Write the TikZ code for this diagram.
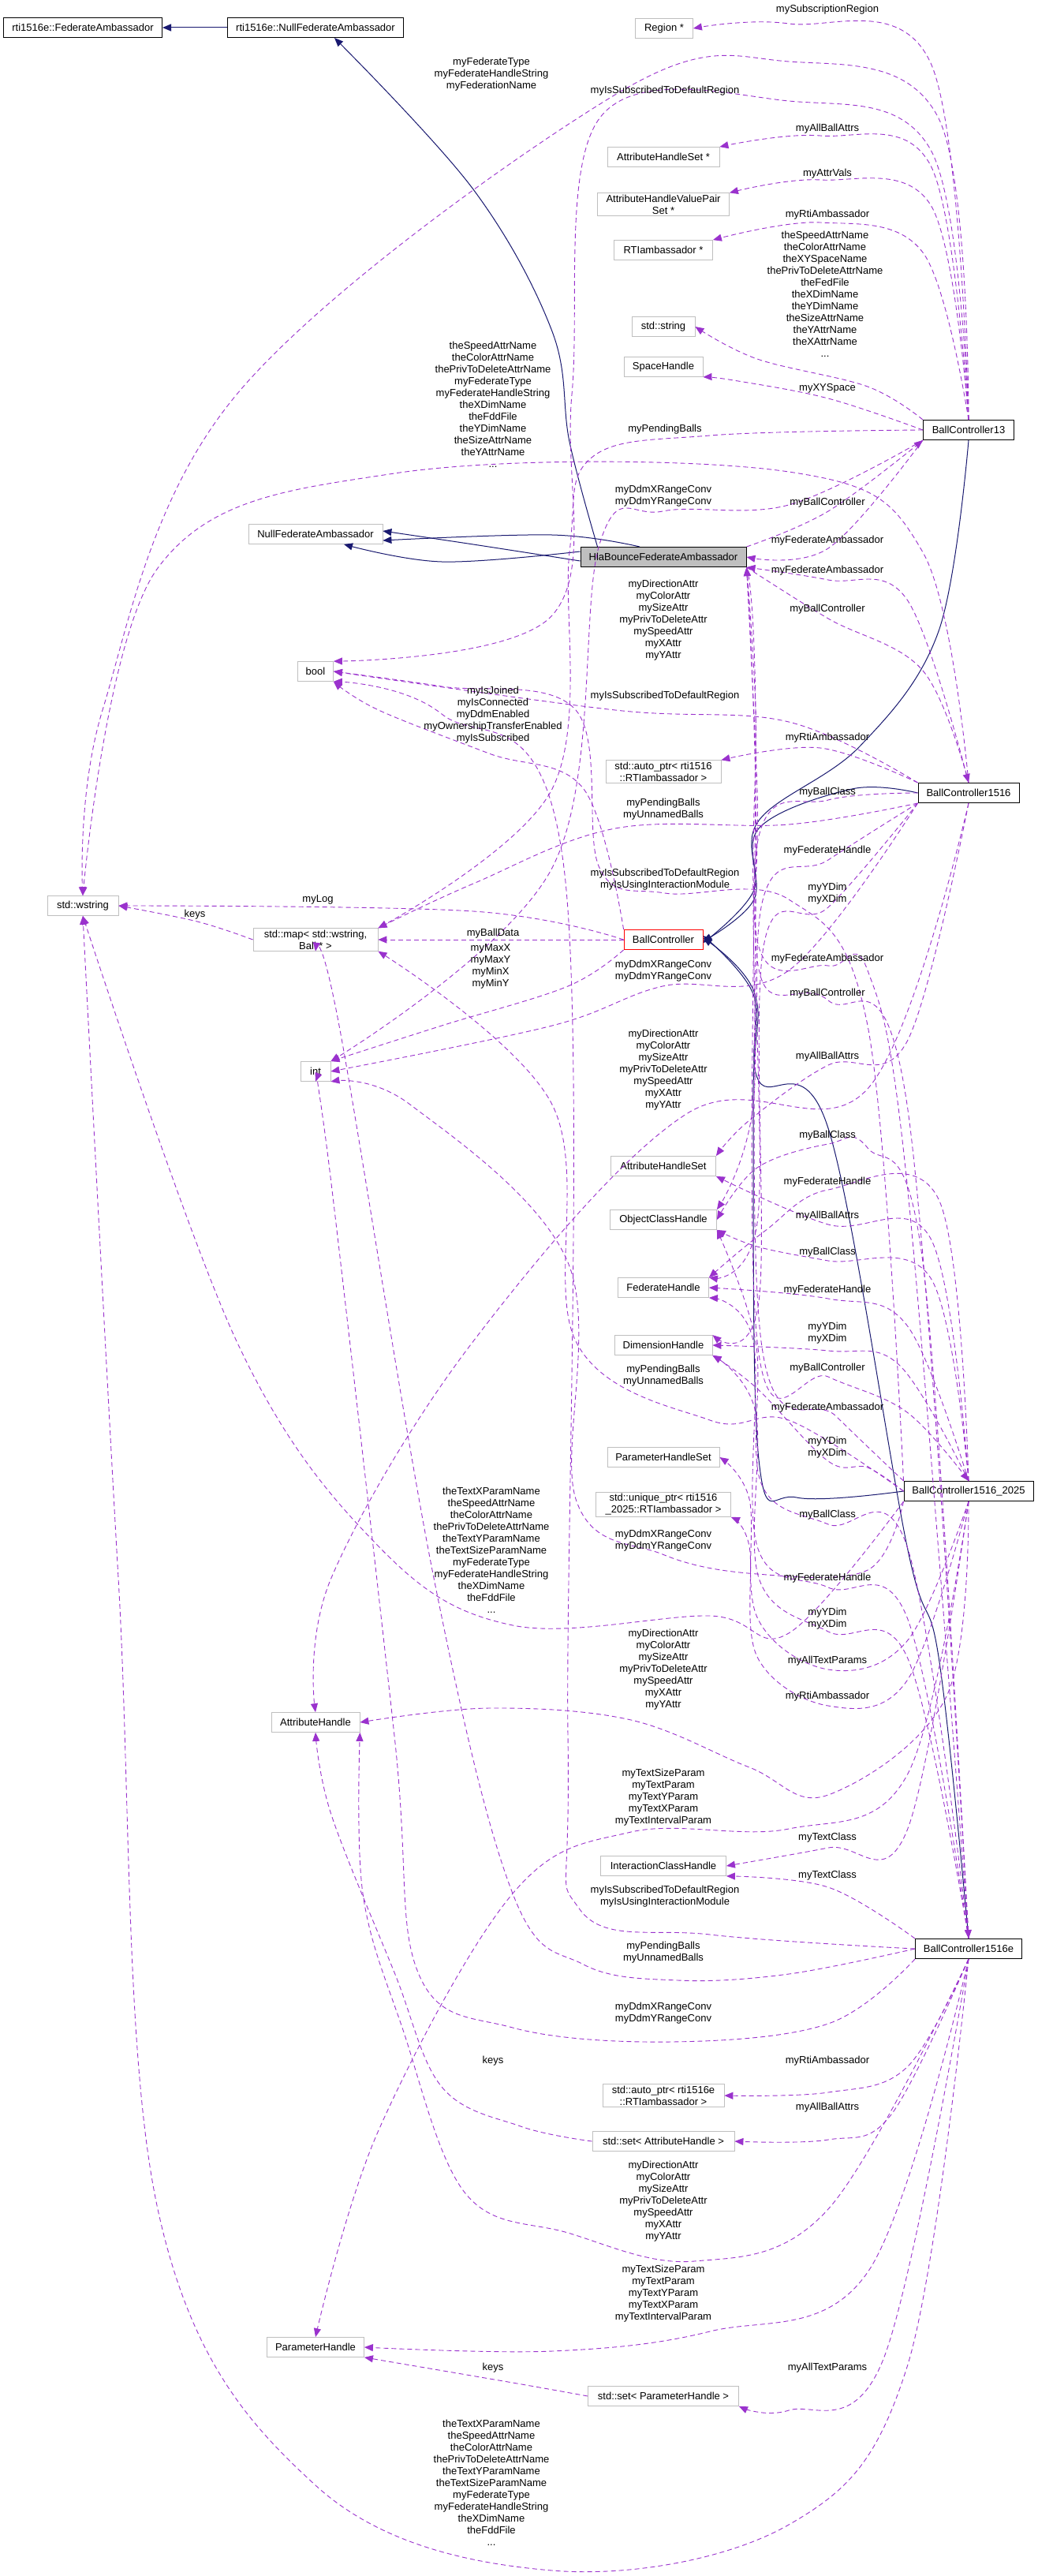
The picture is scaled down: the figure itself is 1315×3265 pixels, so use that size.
\documentclass[tikz,border=0pt]{standalone}
\usepackage{fontspec}
\setmainfont{Liberation Sans}
\usetikzlibrary{arrows.meta}
\definecolor{dep}{RGB}{154,50,205}
\definecolor{nav}{RGB}{25,25,112}
\definecolor{lg}{RGB}{191,191,191}
\begin{document}
\begin{tikzpicture}[x=1pt,y=-1pt,
  box/.style={draw=lg, line width=0.8pt, minimum height=25pt, inner sep=2pt, font=\fontsize{13}{15}\selectfont, align=center},
  doc/.style={box, draw=black, line width=1pt},
  lbl/.style={font=\fontsize{13}{15}\selectfont, align=center, inner sep=0pt},
  dep/.style={draw=dep, line width=0.9pt, dash pattern=on 6pt off 4pt, -{Triangle[length=11pt,width=9pt]}},
  inh/.style={draw=nav, line width=1pt, -{Triangle[length=11pt,width=9pt]}}]
\useasboundingbox (0,0) rectangle (1315,3265);
\fill[white] (0,0) rectangle (1315,3265);
% nodes
\node[doc, minimum width=201] (rfa) at (105,35) {rti1516e::FederateAmbassador};
\node[doc, minimum width=223] (rnfa) at (400,35) {rti1516e::NullFederateAmbassador};
\node[box, minimum width=73] (region) at (842,36) {Region *};
\node[box, minimum width=142] (ahsp) at (841,199) {AttributeHandleSet *};
\node[box, minimum width=167] (ahvps) at (841,259) {AttributeHandleValuePair\\Set *};
\node[box, minimum width=125] (rtip) at (841,317) {RTIambassador *};
\node[box, minimum width=80] (sstr) at (841,414) {std::string};
\node[box, minimum width=100] (space) at (841,465) {SpaceHandle};
\node[doc, minimum width=115] (bc13) at (1228,545) {BallController13};
\node[box, minimum width=170] (nfa) at (400,677) {NullFederateAmbassador};
\node[box, draw=black, fill=lg, line width=1pt, minimum width=210] (hla) at (841,706) {HlaBounceFederateAmbassador};
\node[box, minimum width=45] (bool) at (400,851) {bool};
\node[box, minimum width=146] (ap16) at (841,978) {std::auto\_ptr\textless{} rti1516\\::RTIambassador \textgreater};
\node[doc, minimum width=128] (bc16) at (1228,1005) {BallController1516};
\node[box, minimum width=90] (wstr) at (105,1148) {std::wstring};
\node[box, minimum width=158] (map) at (400,1191) {std::map\textless{} std::wstring,\\Ball * \textgreater};
\node[box, draw=red, minimum width=100] (bc) at (841,1191) {BallController};
\node[box, minimum width=38] (int) at (400,1358) {int};
\node[box, minimum width=133] (ahs) at (841,1478) {AttributeHandleSet};
\node[box, minimum width=135] (och) at (841,1546) {ObjectClassHandle};
\node[box, minimum width=115] (fh) at (841,1632) {FederateHandle};
\node[box, minimum width=124] (dh) at (841,1705) {DimensionHandle};
\node[box, minimum width=142] (phs) at (841,1847) {ParameterHandleSet};
\node[box, minimum width=171] (uptr) at (841,1907) {std::unique\_ptr\textless{} rti1516\\\_2025::RTIambassador \textgreater};
\node[doc, minimum width=164] (bc25) at (1228,1890) {BallController1516\_2025};
\node[box, minimum width=112] (ah) at (400,2183) {AttributeHandle};
\node[box, minimum width=159] (ich) at (841,2365) {InteractionClassHandle};
\node[doc, minimum width=135] (bc16e) at (1228,2470) {BallController1516e};
\node[box, minimum width=154] (ap16e) at (841,2656) {std::auto\_ptr\textless{} rti1516e\\::RTIambassador \textgreater};
\node[box, minimum width=180] (setah) at (841,2714) {std::set\textless{} AttributeHandle \textgreater};
\node[box, minimum width=123] (ph) at (400,2975) {ParameterHandle};
\node[box, minimum width=191] (setph) at (841,3037) {std::set\textless{} ParameterHandle \textgreater};
% inheritance
\draw[inh] (rnfa) -- (rfa);
\draw[inh] plot[smooth,tension=0.6] coordinates {([xshift=22pt]hla.north west) (722,560) (700,420) (600,240) ([xshift=24pt]rnfa.south)};
\draw[inh] plot[smooth,tension=0.6] coordinates {([xshift=-30pt]hla.north) (700,678) ([yshift=-8pt]nfa.east)};
\draw[inh] plot[smooth,tension=0.6] coordinates {([yshift=-5pt]hla.west) (600,690) ([yshift=4pt]nfa.east)};
\draw[inh] plot[smooth,tension=0.6] coordinates {([yshift=7pt]hla.west) (560,712) ([xshift=36pt]nfa.south)};
\draw[inh] plot[smooth,tension=0.6] coordinates {(bc13.south) (1190,800) (1090,946) (962,1040) (955,1130) ([yshift=-4pt]bc.east)};
\draw[inh] plot[smooth,tension=0.6] coordinates {(bc16.west) (1080,1000) (962,1050) (956,1140) ([yshift=-2pt]bc.east)};
\draw[inh] plot[smooth,tension=0.6] coordinates {(bc25.west) (1010,1898) (962,1850) (955,1400) (957,1260) ([yshift=2pt]bc.east)};
\draw[inh] plot[smooth,tension=0.6] coordinates {(bc16e.north) (1190,2100) (1150,1960) (1050,1430) (962,1370) (955,1260) ([yshift=5pt]bc.east)};
% BC13 deps
\draw[dep] plot[smooth,tension=0.6] coordinates {(bc13.north) (1180,80) (1000,30) (region.east)};
\draw[dep] plot[smooth,tension=0.6] coordinates {(bc13.north) (1190,150) (1000,78) (780,120) (300,500) (130,900) (wstr.north)};
\draw[dep] plot[smooth,tension=0.6] coordinates {(bc13.north) (1180,190) (1000,128) (760,150) (725,500) (700,780) (bool.north east)};
\draw[dep] plot[smooth,tension=0.6] coordinates {(bc13.north) (1180,210) (1040,172) (ahsp.north east)};
\draw[dep] plot[smooth,tension=0.6] coordinates {(bc13.north) (1180,260) (1040,228) (ahvps.north east)};
\draw[dep] plot[smooth,tension=0.6] coordinates {(bc13.north) (1170,320) (1040,282) (rtip.north east)};
\draw[dep] plot[smooth,tension=0.6] coordinates {(bc13.north west) (1100,490) (960,455) (sstr.east)};
\draw[dep] plot[smooth,tension=0.6] coordinates {(bc13.west) (1050,505) (930,482) (space.south east)};
\draw[dep] plot[smooth,tension=0.6] coordinates {(bc13.west) (900,552) (750,580) (722,700) (700,1000) (map.north east)};
\draw[dep] plot[smooth,tension=0.6] coordinates {(bc13.south west) (1000,640) (840,648) (760,690) (700,1100) (int.north east)};
\draw[dep] plot[smooth,tension=0.6] coordinates {(bc13.south west) (1050,695) (hla.east)};
\draw[dep] plot[smooth,tension=0.6] coordinates {(hla.north east) (1050,648) (bc13.south west)};
% BC1516 deps
\draw[dep] plot[smooth,tension=0.6] coordinates {(bc16.north west) (1000,915) (780,900) (bool.east)};
\draw[dep] plot[smooth,tension=0.6] coordinates {(bc16.north west) (1040,948) (ap16.north east)};
\draw[dep] plot[smooth,tension=0.6] coordinates {(bc16.west) (1050,1014) (962,1060) (955,1400) (och.north east)};
\draw[dep] plot[smooth,tension=0.6] coordinates {(bc16.south west) (1000,1045) (780,1050) (600,1120) (map.north east)};
\draw[dep] plot[smooth,tension=0.6] coordinates {(bc16.south west) (1050,1090) (965,1150) (960,1550) (fh.north east)};
\draw[dep] plot[smooth,tension=0.6] coordinates {(bc16.south west) (1050,1150) (968,1200) (962,1650) (dh.north east)};
\draw[dep] plot[smooth,tension=0.6] coordinates {(bc16.north) (1150,760) (1050,735) (hla.south east)};
\draw[dep] plot[smooth,tension=0.6] coordinates {(hla.south east) (1050,784) (1170,850) (bc16.north)};
\draw[dep] plot[smooth,tension=0.6] coordinates {(bc16.south west) (1000,1230) (840,1250) (700,1300) (int.east)};
\draw[dep] plot[smooth,tension=0.6] coordinates {(bc16.south) (1150,1320) (1050,1350) (950,1420) (ahs.north east)};
\draw[dep] plot[smooth,tension=0.6] coordinates {(bc16.south) (1100,1380) (870,1412) (600,1700) (420,2000) (ah.north)};
\draw[dep] plot[smooth,tension=0.6] coordinates {(bc16.north) (1170,700) (1000,598) (500,600) (200,720) (wstr.north)};
% BallController deps
\draw[dep] plot[smooth,tension=0.6] coordinates {(bc.west) (600,1155) (wstr.east)};
\draw[dep] (bc.west) -- (map.east);
\draw[dep] plot[smooth,tension=0.6] coordinates {(bc.south west) (720,1250) (560,1300) (int.north east)};
\draw[dep] plot[smooth,tension=0.6] coordinates {(bc.north west) (740,1000) (620,955) (480,900) (bool.south east)};
\draw[dep] plot[smooth,tension=0.6] coordinates {(map.west) (250,1168) (wstr.east)};
% BC1516_2025 deps
\draw[dep] plot[smooth,tension=0.6] coordinates {(bc25.north) (1190,1520) (1050,1508) (970,1560) (fh.north east)};
\draw[dep] plot[smooth,tension=0.6] coordinates {(bc25.north) (1180,1570) (1050,1552) (ahs.south east)};
\draw[dep] plot[smooth,tension=0.6] coordinates {(bc25.north) (1180,1620) (1050,1598) (960,1580) (och.south east)};
\draw[dep] plot[smooth,tension=0.6] coordinates {(bc25.north) (1150,1680) (1050,1646) (fh.east)};
\draw[dep] plot[smooth,tension=0.6] coordinates {(bc25.north) (1140,1730) (1050,1712) (dh.east)};
\draw[dep] plot[smooth,tension=0.6] coordinates {(hla.south east) (958,900) (960,1700) (1050,1745) (1150,1790) (bc25.north)};
\draw[dep] plot[smooth,tension=0.6] coordinates {(bc25.west) (1000,1800) (900,1800) (730,1700) (700,1400) (map.south east)};
\draw[dep] plot[smooth,tension=0.6] coordinates {(bc25.north west) (1060,1795) (965,1700) (958,1000) (hla.south east)};
\draw[dep] plot[smooth,tension=0.6] coordinates {(bc25.west) (1100,1860) (1050,1852) (960,1760) (dh.south east)};
\draw[dep] plot[smooth,tension=0.6] coordinates {(bc25.south west) (1100,1990) (960,1995) (840,1970) (730,1900) (720,1600) (520,1400) (int.south east)};
\draw[dep] plot[smooth,tension=0.6] coordinates {(bc25.south west) (1000,2070) (900,2048) (650,2060) (480,1960) (300,1700) (wstr.south)};
\draw[dep] plot[smooth,tension=0.6] coordinates {(bc25.south) (1150,2080) (1050,2116) (960,2050) (950,1900) (phs.east)};
\draw[dep] plot[smooth,tension=0.6] coordinates {(bc25.south) (1150,2130) (1050,2162) (960,2100) (950,1960) (uptr.south east)};
\draw[dep] plot[smooth,tension=0.6] coordinates {(bc25.south) (1200,2150) (1050,2275) (950,2240) (800,2180) (620,2165) (ah.east)};
\draw[dep] plot[smooth,tension=0.6] coordinates {(bc25.south) (1150,2250) (1000,2318) (800,2322) (650,2400) (480,2700) (ph.north)};
\draw[dep] plot[smooth,tension=0.6] coordinates {(bc25.south) (1150,2320) (1050,2342) (ich.east)};
\draw[dep] plot[smooth,tension=0.6] coordinates {(bc25.north west) (1100,1300) (1000,1140) (843,1132) (760,1100) (730,900) (560,870) (bool.east)};
% BC1516e deps
\draw[dep] plot[smooth,tension=0.6] coordinates {(bc16e.north) (1150,1500) (1100,1230) (1050,1224) (962,1200) (958,900) (hla.south east)};
\draw[dep] plot[smooth,tension=0.6] coordinates {(hla.south east) (960,1000) (965,1240) (1050,1268) (1150,1400) (bc16e.north)};
\draw[dep] plot[smooth,tension=0.6] coordinates {(bc16e.north) (1170,1600) (1100,1455) (1050,1450) (960,1480) (och.east)};
\draw[dep] plot[smooth,tension=0.6] coordinates {(bc16e.north) (1150,1960) (1050,1932) (965,1880) (958,1700) (och.south east)};
\draw[dep] plot[smooth,tension=0.6] coordinates {(bc16e.north) (1150,2050) (1050,2012) (960,1960) (955,1700) (fh.south east)};
\draw[dep] plot[smooth,tension=0.6] coordinates {(bc16e.north) (1150,2100) (1050,2068) (962,2000) (958,1790) (dh.south east)};
\draw[dep] plot[smooth,tension=0.6] coordinates {(bc16e.north west) (1050,2392) (ich.south east)};
\draw[dep] plot[smooth,tension=0.6] coordinates {(bc16e.west) (900,2452) (735,2420) (720,2200) (715,1100) (560,905) (bool.south east)};
\draw[dep] plot[smooth,tension=0.6] coordinates {(bc16e.west) (1000,2502) (860,2510) (740,2490) (650,2400) (550,2000) (430,1300) (map.south)};
\draw[dep] plot[smooth,tension=0.6] coordinates {(bc16e.south west) (1050,2565) (850,2588) (650,2570) (530,2500) (500,2200) (420,1500) (int.south)};
\draw[dep] plot[smooth,tension=0.6] coordinates {(bc16e.south) (1150,2620) (1050,2652) (ap16e.east)};
\draw[dep] plot[smooth,tension=0.6] coordinates {(bc16e.south) (1130,2680) (1050,2712) (setah.east)};
\draw[dep] plot[smooth,tension=0.6] coordinates {(setah.west) (660,2695) (560,2645) (500,2500) (420,2300) (ah.south)};
\draw[dep] plot[smooth,tension=0.6] coordinates {(bc16e.south) (1050,2800) (880,2866) (720,2830) (590,2780) (510,2570) (460,2400) (ah.south east)};
\draw[dep] plot[smooth,tension=0.6] coordinates {(bc16e.south) (1100,2880) (900,2955) (700,2980) (ph.east)};
\draw[dep] plot[smooth,tension=0.6] coordinates {(setph.west) (650,3020) (ph.south east)};
\draw[dep] plot[smooth,tension=0.6] coordinates {(bc16e.south) (1120,2990) (1000,3055) (setph.south east)};
\draw[dep] plot[smooth,tension=0.6] coordinates {(bc16e.south) (1150,3000) (1000,3200) (700,3258) (400,3150) (200,2800) (150,2000) (wstr.south)};
% labels
\node[lbl] (l1) at (1049,12) {mySubscriptionRegion};
\node[lbl] (l2) at (623,94) {myFederateType\\myFederateHandleString\\myFederationName};
\node[lbl] (l3) at (843,115) {myIsSubscribedToDefaultRegion};
\node[lbl] (l4) at (1049,163) {myAllBallAttrs};
\node[lbl] (l5) at (1049,220) {myAttrVals};
\node[lbl] (l6) at (1049,272) {myRtiAmbassador};
\node[lbl] (l7) at (1046,373) {theSpeedAttrName\\theColorAttrName\\theXYSpaceName\\thePrivToDeleteAttrName\\theFedFile\\theXDimName\\theYDimName\\theSizeAttrName\\theYAttrName\\theXAttrName\\...};
\node[lbl] (l8) at (1049,492) {myXYSpace};
\node[lbl] (l9) at (843,544) {myPendingBalls};
\node[lbl] (l10) at (841,629) {myDdmXRangeConv\\myDdmYRangeConv};
\node[lbl] (l11) at (1049,637) {myBallController};
\node[lbl] (l12) at (1049,685) {myFederateAmbassador};
\node[lbl] (l13) at (1049,723) {myFederateAmbassador};
\node[lbl] (l14) at (1049,772) {myBallController};
\node[lbl] (l15) at (625,513) {theSpeedAttrName\\theColorAttrName\\thePrivToDeleteAttrName\\myFederateType\\myFederateHandleString\\theXDimName\\theFddFile\\theYDimName\\theSizeAttrName\\theYAttrName\\...};
\node[lbl] (l16) at (841,786) {myDirectionAttr\\myColorAttr\\mySizeAttr\\myPrivToDeleteAttr\\mySpeedAttr\\myXAttr\\myYAttr};
\node[lbl] (l17) at (625,906) {myIsJoined\\myIsConnected\\myDdmEnabled\\myOwnershipTransferEnabled\\myIsSubscribed};
\node[lbl] (l18) at (843,882) {myIsSubscribedToDefaultRegion};
\node[lbl] (l19) at (1049,935) {myRtiAmbassador};
\node[lbl] (l20) at (1049,1004) {myBallClass};
\node[lbl] (l21) at (841,1026) {myPendingBalls\\myUnnamedBalls};
\node[lbl] (l22) at (1049,1078) {myFederateHandle};
\node[lbl] (l23) at (843,1115) {myIsSubscribedToDefaultRegion\\myIsUsingInteractionModule};
\node[lbl] (l24) at (1049,1133) {myYDim\\myXDim};
\node[lbl] (l25) at (403,1140) {myLog};
\node[lbl] (l26) at (247,1159) {keys};
\node[lbl] (l27) at (625,1183) {myBallData};
\node[lbl] (l28) at (622,1225) {myMaxX\\myMaxY\\myMinX\\myMinY};
\node[lbl] (l29) at (1049,1215) {myFederateAmbassador};
\node[lbl] (l30) at (841,1231) {myDdmXRangeConv\\myDdmYRangeConv};
\node[lbl] (l31) at (1049,1259) {myBallController};
\node[lbl] (l32) at (841,1356) {myDirectionAttr\\myColorAttr\\mySizeAttr\\myPrivToDeleteAttr\\mySpeedAttr\\myXAttr\\myYAttr};
\node[lbl] (l33) at (1049,1339) {myAllBallAttrs};
\node[lbl] (l34) at (1049,1439) {myBallClass};
\node[lbl] (l35) at (1049,1498) {myFederateHandle};
\node[lbl] (l36) at (1049,1541) {myAllBallAttrs};
\node[lbl] (l37) at (1049,1587) {myBallClass};
\node[lbl] (l38) at (1049,1635) {myFederateHandle};
\node[lbl] (l39) at (1049,1690) {myYDim\\myXDim};
\node[lbl] (l40) at (1049,1734) {myBallController};
\node[lbl] (l41) at (841,1744) {myPendingBalls\\myUnnamedBalls};
\node[lbl] (l42) at (1049,1784) {myFederateAmbassador};
\node[lbl] (l43) at (1049,1835) {myYDim\\myXDim};
\node[lbl] (l44) at (1049,1920) {myBallClass};
\node[lbl] (l45) at (841,1953) {myDdmXRangeConv\\myDdmYRangeConv};
\node[lbl] (l46) at (623,1965) {theTextXParamName\\theSpeedAttrName\\theColorAttrName\\thePrivToDeleteAttrName\\theTextYParamName\\theTextSizeParamName\\myFederateType\\myFederateHandleString\\theXDimName\\theFddFile\\...};
\node[lbl] (l47) at (1049,2000) {myFederateHandle};
\node[lbl] (l48) at (1049,2052) {myYDim\\myXDim};
\node[lbl] (l49) at (841,2116) {myDirectionAttr\\myColorAttr\\mySizeAttr\\myPrivToDeleteAttr\\mySpeedAttr\\myXAttr\\myYAttr};
\node[lbl] (l50) at (1049,2105) {myAllTextParams};
\node[lbl] (l51) at (1049,2150) {myRtiAmbassador};
\node[lbl] (l52) at (841,2278) {myTextSizeParam\\myTextParam\\myTextYParam\\myTextXParam\\myTextIntervalParam};
\node[lbl] (l53) at (1049,2329) {myTextClass};
\node[lbl] (l54) at (1049,2377) {myTextClass};
\node[lbl] (l55) at (843,2404) {myIsSubscribedToDefaultRegion\\myIsUsingInteractionModule};
\node[lbl] (l56) at (841,2475) {myPendingBalls\\myUnnamedBalls};
\node[lbl] (l57) at (841,2552) {myDdmXRangeConv\\myDdmYRangeConv};
\node[lbl] (l58) at (625,2612) {keys};
\node[lbl] (l59) at (1049,2612) {myRtiAmbassador};
\node[lbl] (l60) at (1049,2671) {myAllBallAttrs};
\node[lbl] (l61) at (841,2790) {myDirectionAttr\\myColorAttr\\mySizeAttr\\myPrivToDeleteAttr\\mySpeedAttr\\myXAttr\\myYAttr};
\node[lbl] (l62) at (841,2907) {myTextSizeParam\\myTextParam\\myTextYParam\\myTextXParam\\myTextIntervalParam};
\node[lbl] (l63) at (625,3001) {keys};
\node[lbl] (l64) at (1049,3001) {myAllTextParams};
\node[lbl] (l65) at (623,3147) {theTextXParamName\\theSpeedAttrName\\theColorAttrName\\thePrivToDeleteAttrName\\theTextYParamName\\theTextSizeParamName\\myFederateType\\myFederateHandleString\\theXDimName\\theFddFile\\...};
\end{tikzpicture}
\end{document}
